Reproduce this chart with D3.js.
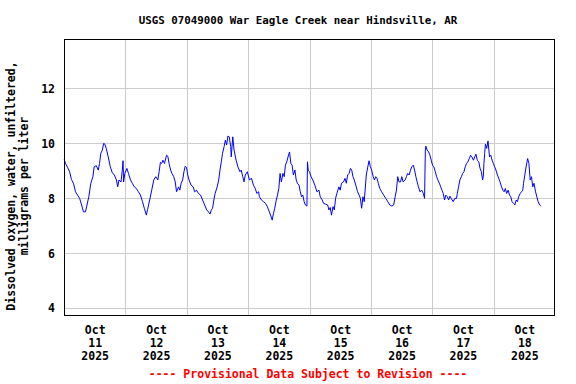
<!DOCTYPE html>
<html><head><meta charset="utf-8">
<script src="https://cdn.jsdelivr.net/npm/d3@7"></script>
<style>
html,body{margin:0;padding:0;background:#fff;}
text{font-family:"DejaVu Sans Mono",monospace;font-weight:bold;}
</style></head>
<body><svg id="c" width="576" height="384"></svg>
<script>
const title = "USGS 07049000 War Eagle Creek near Hindsville, AR";
const yLabel1 = "Dissolved oxygen, water, unfiltered,";
const yLabel2 = "milligrams per liter";
const footer = "---- Provisional Data Subject to Revision ----";
const dayLabels = ["11","12","13","14","15","16","17","18"];
const monthLabel = "Oct";
const yearLabel = "2025";
const yTicks = [4,6,8,10,12];
// hours since 2025-10-11 00:00
const hours = [0.1,0.6,1.4,2.2,2.9,3.7,4.5,5.3,6.1,6.9,7.6,8.4,8.9,9.7,10.5,11.3,11.8,12.6,13.4,13.9,14.4,15.0,15.5,16.0,16.5,17.3,18.1,18.9,19.7,20.5,21.0,21.5,22.3,22.8,23.1,23.3,23.8,24.6,25.2,26.0,26.7,27.5,28.3,29.1,29.9,30.7,31.4,32.2,32.7,33.5,34.3,35.1,35.9,36.7,37.2,37.7,
38.2,38.7,39.3,40.1,40.6,41.1,41.7,42.2,42.9,43.5,44.0,44.8,45.3,45.8,46.4,46.9,47.4,47.9,48.4,48.9,49.7,50.5,51.1,51.8,52.6,53.4,54.2,55.0,55.8,56.5,57.1,57.6,58.1,58.6,59.1,59.9,60.5,61.0,61.5,62.0,62.6,63.1,63.6,64.1,64.6,65.2,65.4,66.0,66.5,67.3,68.0,68.8,69.3,69.9,70.4,70.9,71.7,72.5,73.3,74.1,74.8,75.4,76.1,76.4,
77.2,78.0,78.8,79.5,80.3,80.9,81.4,81.9,82.4,83.0,83.5,84.0,84.5,85.0,85.6,86.1,86.6,87.1,87.7,88.2,88.7,89.2,89.7,90.3,90.8,91.3,91.9,92.4,92.9,93.4,93.9,94.4,95.0,95.2,95.5,96.0,96.6,97.3,98.1,98.9,99.7,100.2,101.0,101.5,102.3,103.1,103.6,104.1,104.6,105.2,105.7,106.2,106.7,107.5,108.0,108.5,109.3,109.9,110.4,110.9,111.5,112.0,112.5,113.0,113.5,114.1,114.8,
115.4,115.9,116.4,116.9,117.4,118.0,118.2,118.8,119.3,119.8,120.3,120.9,121.4,121.9,122.4,122.9,123.5,124.2,125.0,125.8,126.6,127.4,128.2,128.9,129.5,130.0,130.5,131.0,131.6,132.1,132.6,133.4,133.9,134.4,135.0,135.5,136.0,136.6,137.1,137.6,138.1,138.6,139.2,139.9,140.5,141.0,141.3,141.5,142.0,142.6,143.1,143.6,144.1,144.6,145.2,145.7,146.2,146.8,147.3,147.8,148.3,148.8,149.3,149.9,150.4,150.9,151.4,152.2,152.8,
153.5,153.8,154.3,154.8,155.4,155.9,156.4,156.9,157.4,157.9,158.5,159.0,159.5,160.1,160.6,161.1,161.6,162.2,162.7,163.2,163.7,164.0,164.2,164.5,164.8,165.3,165.8,166.4,166.9,167.4,167.9,168.4,168.9,169.5,170.0,170.5,171.1,171.6,172.1,172.6,173.1,173.7,174.2,174.7,175.2,175.8,176.3,176.8,177.3,177.8,178.4,178.9,179.4,179.7,180.2,180.7,181.3,181.8,182.3,182.8,183.3,183.8,184.4,184.9,185.4,186.0,186.5];
const oxygen = [9.42,9.27,9.13,8.97,8.69,8.55,8.24,8.12,8.0,7.76,7.51,7.51,7.72,8.06,8.55,8.79,9.15,9.19,9.03,9.27,9.64,9.76,10.0,9.97,9.82,9.51,9.15,8.93,8.85,8.67,8.42,8.67,8.60,9.03,9.37,8.6,8.91,9.09,8.91,8.67,8.55,8.42,8.36,8.24,8.12,7.88,7.64,7.39,7.6,7.94,8.3,8.67,8.79,8.67,8.97,9.31,
9.27,9.39,9.27,9.57,9.53,9.27,9.03,8.91,8.79,8.6,8.24,8.42,8.3,8.55,8.67,8.97,9.17,9.13,8.85,8.67,8.48,8.42,8.24,8.3,8.18,8.12,7.94,7.76,7.58,7.51,7.43,7.58,7.64,7.94,8.18,8.42,8.67,9.03,9.33,9.64,9.88,10.12,9.94,10.27,10.24,9.88,9.51,10.24,9.76,9.39,9.15,8.97,9.03,8.79,8.6,8.85,8.97,8.67,8.73,8.48,8.36,8.18,8.24,8.06,
7.94,7.88,7.82,7.70,7.51,7.36,7.21,7.45,7.64,7.94,8.12,8.36,8.91,8.6,8.91,8.79,9.21,9.33,9.54,9.69,9.27,9.21,8.85,9.03,8.67,8.55,8.48,8.24,8.06,8.12,7.88,7.76,7.72,9.33,9.03,8.97,8.79,8.67,8.48,8.24,8.3,8.06,7.94,7.82,7.79,7.76,7.58,7.67,7.39,7.70,7.58,8.0,8.18,8.42,8.3,8.55,8.6,8.73,8.55,8.85,8.91,9.09,9.03,8.79,8.67,8.48,8.24,
8.12,8.0,7.64,8.06,7.88,8.6,8.85,9.15,9.37,9.15,9.03,8.79,8.67,8.79,8.73,8.55,8.36,8.24,8.12,8.0,7.88,7.76,7.72,7.76,8.06,8.3,8.79,8.6,8.6,8.79,8.6,8.67,8.79,8.91,8.85,9.03,9.15,9.21,9.03,8.79,8.6,8.42,8.24,8.3,8.18,8.0,9.76,9.9,9.76,9.69,9.57,9.39,9.21,9.15,8.97,8.79,8.67,8.55,8.42,8.3,8.18,7.94,8.12,8.06,7.94,8.08,8.0,7.88,8.0,
8.0,8.18,8.42,8.67,8.79,8.91,8.97,9.15,9.27,9.33,9.45,9.57,9.51,9.39,9.51,9.61,9.39,9.33,9.09,8.97,8.67,8.85,9.27,9.64,9.97,9.82,10.09,9.51,9.57,9.39,9.27,9.15,9.03,8.85,8.73,8.6,8.42,8.3,8.24,8.36,8.18,8.3,8.12,8.06,7.88,7.82,7.76,7.94,7.88,8.06,8.18,8.24,8.3,8.55,8.85,9.15,9.45,9.27,8.67,8.79,8.42,8.55,8.24,8.06,7.88,7.76,7.72];

const svg = d3.select("#c");
const m = {left:64, right:555, top:39, bottom:316};
const t0 = Date.UTC(2025,9,11);
const H = 3600e3;
const x = d3.scaleUtc().domain([new Date(t0), new Date(t0+8*24*H)]).range([m.left, m.right]);
const y = d3.scaleLinear().domain([3.72, 13.8]).range([m.bottom, m.top]);
const data = hours.map((h,i)=>({t:new Date(t0+h*H), v:oxygen[i]}));

// grid
const midnights = d3.range(1,8).map(d=>new Date(t0+d*24*H));
svg.append("g").attr("transform",`translate(0,${m.bottom})`)
  .call(d3.axisBottom(x).tickValues(midnights).tickSize(-(m.bottom-m.top)).tickFormat(""))
  .call(g=>{g.select(".domain").remove(); g.selectAll("line").attr("stroke","#cccccc").attr("shape-rendering","crispEdges");});
svg.append("g").attr("transform",`translate(${m.left},0)`)
  .call(d3.axisLeft(y).tickValues(yTicks).tickSize(-(m.right-m.left)).tickFormat(""))
  .call(g=>{g.select(".domain").remove(); g.selectAll("line").attr("stroke","#cccccc").attr("shape-rendering","crispEdges");});

// y tick labels
svg.append("g").attr("transform",`translate(${m.left},0)`)
  .call(d3.axisLeft(y).tickValues(yTicks).tickSize(0).tickPadding(9).tickFormat(d3.format("d")))
  .call(g=>{g.select(".domain").remove(); g.selectAll("text").attr("font-size","11.5px").attr("fill","#000")
    .style("font-family","'DejaVu Sans Mono',monospace").style("font-weight","bold");});

// x labels
const noons = d3.range(0,8).map(d=>new Date(t0+d*24*H+12*H));
const xa = svg.append("g").attr("transform",`translate(0,${m.bottom})`)
  .call(d3.axisBottom(x).tickValues(noons).tickSize(0).tickFormat(""));
xa.select(".domain").remove();
xa.selectAll(".tick").each(function(d,i){
  const g = d3.select(this);
  [monthLabel, dayLabels[i], yearLabel].forEach((s,k)=>{
    g.append("text").attr("y",18+k*13.2).attr("text-anchor","middle").attr("font-size","11.5px").attr("fill","#000").text(s);
  });
});

// line
svg.append("path").datum(data)
  .attr("fill","none").attr("stroke","#0000ff").attr("stroke-width",1)
  .attr("d", d3.line().x(d=>x(d.t)).y(d=>y(d.v)));

// frame
svg.append("rect").attr("x",m.left+0.5).attr("y",m.top+0.5).attr("width",m.right-m.left-1).attr("height",m.bottom-m.top-1)
  .attr("fill","none").attr("stroke","#000").attr("stroke-width",1);

// title
svg.append("text").attr("x",298).attr("y",24).attr("text-anchor","middle").attr("font-size","10.8px").text(title);
// y label
const yl = svg.append("text").attr("transform",`translate(0,186) rotate(-90)`).attr("text-anchor","middle").attr("font-size","11.5px");
yl.append("tspan").attr("x",0).attr("y",15).text(yLabel1);
yl.append("tspan").attr("x",0).attr("y",28).text(yLabel2);
// footer
svg.append("text").attr("x",308).attr("y",378).attr("text-anchor","middle").attr("font-size","11.5px").attr("fill","#ff0000").text(footer);
</script></body></html>
